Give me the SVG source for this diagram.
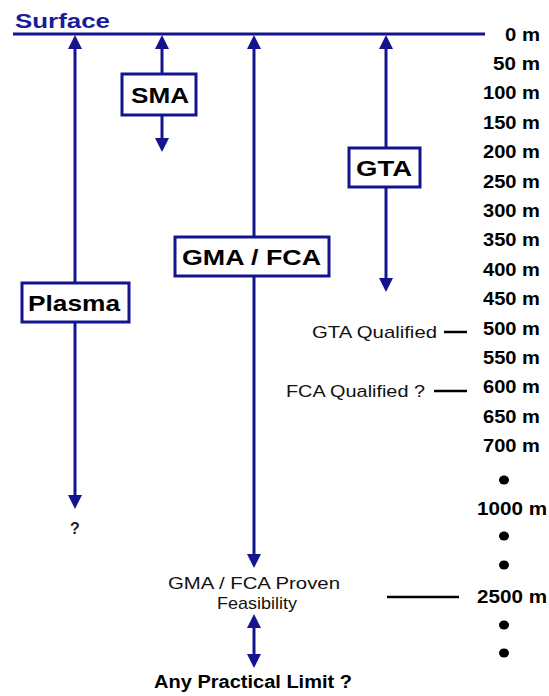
<svg xmlns="http://www.w3.org/2000/svg" width="549" height="696" viewBox="0 0 549 696">
<style>
.ln{stroke:#14148f;stroke-width:3;fill:none}
.box{fill:#fff;stroke:#14148f;stroke-width:3}
.bt{font-family:"Liberation Sans",Arial,sans-serif;font-weight:bold;font-size:22px;fill:#000}
.sc{font-family:"Liberation Sans",Arial,sans-serif;font-weight:bold;font-size:17.5px;fill:#000}
.lb{font-family:"Liberation Sans",Arial,sans-serif;font-size:17px;fill:#111}
.dash{stroke:#000;stroke-width:2.5}
.dot{fill:#000}
.ah{fill:#14148f}
</style>
<defs>
<path id="up" d="M0,0 L-7,14 L7,14 Z"/>
<path id="dn" d="M0,0 L-7,-14 L7,-14 Z"/>
</defs>
<g id="surface">
<line x1="13" y1="34" x2="485" y2="34" stroke="#14148f" stroke-width="3"/>
<text x="15" y="27.5" font-family="Liberation Sans,Arial,sans-serif" font-weight="bold" font-size="20.5" fill="#1a1a9a" textLength="95" lengthAdjust="spacingAndGlyphs">Surface</text>
</g>
<g id="connectors">
<line class="ln" x1="75" y1="46" x2="75" y2="283"/>
<line class="ln" x1="75" y1="322" x2="75" y2="497"/>
<use href="#up" class="ah" x="75" y="35"/>
<use href="#dn" class="ah" x="75" y="509"/>
<line class="ln" x1="162" y1="46" x2="162" y2="74"/>
<line class="ln" x1="162" y1="115" x2="162" y2="140"/>
<use href="#up" class="ah" x="162" y="35"/>
<use href="#dn" class="ah" x="162" y="152"/>
<line class="ln" x1="254" y1="46" x2="254" y2="237"/>
<line class="ln" x1="254" y1="276" x2="254" y2="556"/>
<use href="#up" class="ah" x="254" y="35"/>
<use href="#dn" class="ah" x="254" y="568"/>
<line class="ln" x1="386" y1="46" x2="386" y2="148"/>
<line class="ln" x1="386" y1="187" x2="386" y2="280"/>
<use href="#up" class="ah" x="386" y="35"/>
<use href="#dn" class="ah" x="386" y="292"/>
<line class="ln" x1="254" y1="626" x2="254" y2="656"/>
<use href="#up" class="ah" x="254" y="614"/>
<use href="#dn" class="ah" x="254" y="668"/>
</g>
<g id="sma">
<rect class="box" x="122" y="74" width="74" height="41"/>
<text class="bt" x="131" y="103" textLength="58" lengthAdjust="spacingAndGlyphs">SMA</text>
</g>
<g id="gta">
<rect class="box" x="349" y="148" width="71" height="39"/>
<text class="bt" x="356" y="175.5" textLength="56" lengthAdjust="spacingAndGlyphs">GTA</text>
</g>
<g id="gma">
<rect class="box" x="175" y="237" width="154" height="39"/>
<text class="bt" x="182" y="264.5" textLength="139" lengthAdjust="spacingAndGlyphs">GMA / FCA</text>
</g>
<g id="plasma">
<rect class="box" x="22" y="283" width="107" height="39"/>
<text class="bt" x="28" y="310.5" textLength="92" lengthAdjust="spacingAndGlyphs">Plasma</text>
</g>
<g id="scale">
<text class="sc" x="505" y="40.5" textLength="35" lengthAdjust="spacingAndGlyphs">0 m</text>
<text class="sc" x="493" y="69.9" textLength="47" lengthAdjust="spacingAndGlyphs">50 m</text>
<text class="sc" x="483" y="99.3" textLength="57" lengthAdjust="spacingAndGlyphs">100 m</text>
<text class="sc" x="483" y="128.7" textLength="57" lengthAdjust="spacingAndGlyphs">150 m</text>
<text class="sc" x="483" y="158.1" textLength="57" lengthAdjust="spacingAndGlyphs">200 m</text>
<text class="sc" x="483" y="187.5" textLength="57" lengthAdjust="spacingAndGlyphs">250 m</text>
<text class="sc" x="483" y="216.9" textLength="57" lengthAdjust="spacingAndGlyphs">300 m</text>
<text class="sc" x="483" y="246.3" textLength="57" lengthAdjust="spacingAndGlyphs">350 m</text>
<text class="sc" x="483" y="275.7" textLength="57" lengthAdjust="spacingAndGlyphs">400 m</text>
<text class="sc" x="483" y="305.1" textLength="57" lengthAdjust="spacingAndGlyphs">450 m</text>
<text class="sc" x="483" y="334.5" textLength="57" lengthAdjust="spacingAndGlyphs">500 m</text>
<text class="sc" x="483" y="363.9" textLength="57" lengthAdjust="spacingAndGlyphs">550 m</text>
<text class="sc" x="483" y="393.3" textLength="57" lengthAdjust="spacingAndGlyphs">600 m</text>
<text class="sc" x="483" y="422.7" textLength="57" lengthAdjust="spacingAndGlyphs">650 m</text>
<text class="sc" x="483" y="452.1" textLength="57" lengthAdjust="spacingAndGlyphs">700 m</text>
<ellipse class="dot" cx="504" cy="480" rx="5" ry="4.5"/>
<text class="sc" x="477" y="514.5" textLength="70" lengthAdjust="spacingAndGlyphs">1000 m</text>
<ellipse class="dot" cx="504" cy="536" rx="5" ry="4.5"/>
<ellipse class="dot" cx="504" cy="565" rx="5" ry="4.5"/>
<text class="sc" x="477" y="603" textLength="70" lengthAdjust="spacingAndGlyphs">2500 m</text>
<ellipse class="dot" cx="504" cy="625" rx="5" ry="4.5"/>
<ellipse class="dot" cx="504" cy="653" rx="5" ry="4.5"/>
</g>
<g id="gta-qualified">
<text class="lb" x="312" y="338" textLength="125" lengthAdjust="spacingAndGlyphs">GTA Qualified</text>
<line class="dash" x1="444" y1="332" x2="467" y2="332"/>
</g>
<g id="fca-qualified">
<text class="lb" x="286" y="396.5" textLength="139" lengthAdjust="spacingAndGlyphs">FCA Qualified ?</text>
<line class="dash" x1="434" y1="391" x2="467" y2="391"/>
</g>
<g id="plasma-end">
<text x="75" y="534" text-anchor="middle" font-family="Liberation Sans,Arial,sans-serif" font-size="16" font-weight="bold" fill="#222">?</text>
</g>
<g id="proven">
<text class="lb" x="168" y="588.5" textLength="172" lengthAdjust="spacingAndGlyphs">GMA / FCA Proven</text>
<text class="lb" x="217" y="609" textLength="80" lengthAdjust="spacingAndGlyphs">Feasibility</text>
<line class="dash" x1="387" y1="597" x2="459" y2="597"/>
</g>
<g id="limit">
<text x="154" y="688" font-family="Liberation Sans,Arial,sans-serif" font-weight="bold" font-size="17.5" fill="#000" textLength="198" lengthAdjust="spacingAndGlyphs">Any Practical Limit ?</text>
</g>
</svg>
